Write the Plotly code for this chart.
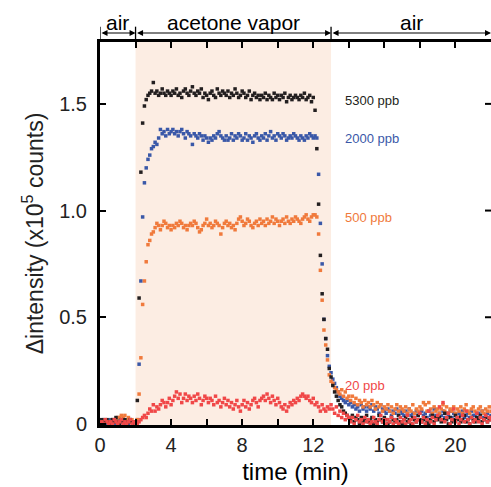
import numpy as np
import plotly.graph_objects as go

# sampling grid (min), one reading every 6 s
t_min = np.round(np.arange(0, 22.05, 0.1), 1)

# delta intensity (x1e5 counts)
sig_5300 = [
    0.01, 0.02, 0.00, 0.01, 0.02, 0.01, 0.00, 0.02, 0.01, 0.03, 0.01, 0.00, 0.02, 0.01, 0.02, 0.00, 0.01, 0.02, 0.01, 0.00, 0.01,
    0.11, 0.59, 1.18, 1.41, 1.49, 1.52, 1.54, 1.55, 1.56, 1.60,
    1.55, 1.56, 1.54, 1.55, 1.57, 1.55, 1.54, 1.56, 1.55, 1.54,
    1.56, 1.55, 1.57, 1.54, 1.55, 1.53, 1.56, 1.57, 1.55, 1.54,
    1.56, 1.58, 1.55, 1.54, 1.56, 1.55, 1.57, 1.53, 1.55, 1.54,
    1.52, 1.55, 1.56, 1.54, 1.53, 1.57, 1.55, 1.54, 1.56, 1.55,
    1.54, 1.56, 1.53, 1.55, 1.54, 1.57, 1.55, 1.53, 1.54, 1.56,
    1.55, 1.53, 1.54, 1.56, 1.52, 1.54, 1.55, 1.53, 1.54, 1.52,
    1.54, 1.53, 1.55, 1.52, 1.54, 1.53, 1.52, 1.55, 1.53, 1.54,
    1.52, 1.54, 1.53, 1.55, 1.51, 1.53, 1.54, 1.52, 1.53, 1.54,
    1.53, 1.52, 1.54, 1.53, 1.55, 1.52, 1.53, 1.54, 1.51, 1.53,
    1.47, 1.29, 1.03, 0.79, 0.61, 0.49, 0.40, 0.35, 0.26, 0.22,
    0.18, 0.15, 0.13, 0.11, 0.09, 0.08, 0.06, 0.05, 0.04, 0.03,
    0.02, 0.04, 0.01, 0.03, 0.02, 0.00, 0.03, 0.01, 0.02, 0.04,
    0.01, 0.02, 0.03, 0.00, 0.02, 0.01, 0.04, 0.02, 0.01, 0.03,
    0.02, 0.00, 0.01, 0.03, 0.02, 0.01, 0.02, 0.04, 0.01, 0.00,
    0.02, 0.03, 0.01, 0.02, 0.00, 0.03, 0.02, 0.01, 0.04, 0.02,
    0.01, 0.02, 0.03, 0.01, 0.00, 0.02, 0.04, 0.01, 0.03, 0.02,
    0.03, 0.01, 0.02, 0.05, 0.02, 0.00, 0.03, 0.01, 0.02, 0.04,
    0.02, 0.03, 0.01, 0.02, 0.04, 0.01, 0.02, 0.00, 0.03, 0.02,
    0.01, 0.03, 0.02, 0.04, 0.01, 0.02, 0.03, 0.01, 0.02, 0.03,
]

sig_2000 = [
    0.00, 0.01, 0.02, 0.00, 0.01, 0.00, 0.02, 0.01, 0.00, 0.01, 0.02, 0.00, 0.01, 0.02, 0.00, 0.01, 0.00, 0.02, 0.01, 0.00, 0.01,
    0.02, 0.28, 0.67, 0.97, 1.13, 1.20, 1.24, 1.26, 1.29, 1.30,
    1.32, 1.31, 1.34, 1.38, 1.36, 1.37, 1.35, 1.38, 1.36, 1.37,
    1.38, 1.36, 1.37, 1.35, 1.37, 1.38, 1.36, 1.34, 1.37, 1.36,
    1.35, 1.31, 1.36, 1.35, 1.34, 1.36, 1.35, 1.33, 1.35, 1.34,
    1.32, 1.34, 1.33, 1.35, 1.34, 1.36, 1.37, 1.35, 1.34, 1.33,
    1.35, 1.33, 1.34, 1.36, 1.33, 1.35, 1.34, 1.36, 1.35, 1.33,
    1.34, 1.36, 1.33, 1.35, 1.34, 1.32, 1.35, 1.36, 1.34, 1.33,
    1.35, 1.34, 1.36, 1.33, 1.35, 1.37, 1.34, 1.35, 1.33, 1.36,
    1.35, 1.34, 1.36, 1.35, 1.33, 1.34, 1.35, 1.34, 1.36, 1.35,
    1.34, 1.33, 1.35, 1.34, 1.33, 1.35, 1.34, 1.36, 1.35, 1.34,
    1.35, 1.34, 1.17, 0.94, 0.75, 0.49, 0.40, 0.32, 0.27, 0.24,
    0.21, 0.19, 0.17, 0.15, 0.13, 0.12, 0.11, 0.10, 0.11, 0.09,
    0.10, 0.08, 0.09, 0.07, 0.08, 0.06, 0.09, 0.07, 0.08, 0.06,
    0.08, 0.07, 0.09, 0.06, 0.08, 0.07, 0.05, 0.09, 0.07, 0.06,
    0.05, 0.07, 0.06, 0.04, 0.06, 0.05, 0.07, 0.04, 0.06, 0.05,
    0.04, 0.06, 0.05, 0.07, 0.04, 0.05, 0.03, 0.06, 0.04, 0.05,
    0.06, 0.04, 0.05, 0.03, 0.06, 0.04, 0.05, 0.07, 0.04, 0.03,
    0.05, 0.04, 0.06, 0.03, 0.05, 0.04, 0.06, 0.03, 0.05, 0.04,
    0.03, 0.05, 0.04, 0.06, 0.03, 0.04, 0.05, 0.03, 0.06, 0.04,
    0.04, 0.03, 0.05, 0.04, 0.06, 0.03, 0.04, 0.05, 0.03, 0.04,
]

sig_500 = [
    0.01, 0.00, 0.01, 0.02, 0.01, 0.00, 0.01, 0.02, 0.01, 0.02, 0.03, 0.03, 0.04, 0.03, 0.04, 0.02, 0.03, 0.01, 0.02, 0.01, 0.00,
    0.02, 0.14, 0.31, 0.56, 0.67, 0.76, 0.84, 0.86, 0.89, 0.90,
    0.92, 0.94, 0.93, 0.91, 0.93, 0.95, 0.94, 0.92, 0.93, 0.91,
    0.93, 0.92, 0.94, 0.93, 0.95, 0.94, 0.92, 0.93, 0.91, 0.93,
    0.94, 0.93, 0.95, 0.94, 0.92, 0.90, 0.91, 0.93, 0.94, 0.96,
    0.93, 0.94, 0.92, 0.93, 0.95, 0.94, 0.93, 0.89, 0.92, 0.94,
    0.95, 0.93, 0.94, 0.92, 0.93, 0.91, 0.94, 0.96, 0.97, 0.95,
    0.93, 0.94, 0.96, 0.95, 0.93, 0.92, 0.94, 0.95, 0.93, 0.96,
    0.94, 0.95, 0.93, 0.96, 0.94, 0.95, 0.97, 0.94, 0.96, 0.95,
    0.93, 0.95, 0.96, 0.94, 0.97, 0.95, 0.94, 0.96, 0.95, 0.97,
    0.96, 0.95, 0.94, 0.96, 0.97, 0.98, 0.96, 0.95, 0.97, 0.98,
    0.98, 0.97, 0.89, 0.72, 0.58, 0.44, 0.37, 0.30, 0.23, 0.20,
    0.19, 0.17, 0.16, 0.15, 0.14, 0.16, 0.13, 0.15, 0.12, 0.13,
    0.11, 0.13, 0.10, 0.12, 0.09, 0.11, 0.10, 0.08, 0.11, 0.09,
    0.10, 0.08, 0.11, 0.09, 0.07, 0.10, 0.08, 0.09, 0.06, 0.08,
    0.07, 0.09, 0.06, 0.08, 0.05, 0.07, 0.09, 0.06, 0.08, 0.07,
    0.06, 0.08, 0.05, 0.07, 0.06, 0.09, 0.05, 0.07, 0.06, 0.08,
    0.07, 0.10, 0.09, 0.06, 0.10, 0.07, 0.05, 0.08, 0.06, 0.07,
    0.05, 0.07, 0.09, 0.06, 0.08, 0.05, 0.07, 0.06, 0.08, 0.05,
    0.07, 0.06, 0.08, 0.05, 0.07, 0.09, 0.06, 0.05, 0.07, 0.08,
    0.06, 0.05, 0.07, 0.08, 0.06, 0.05, 0.07, 0.06, 0.08, 0.06,
]

sig_20 = [
    0.00, 0.01, 0.00, 0.02, 0.01, 0.00, 0.01, 0.00, 0.02, 0.01, 0.00, 0.01, 0.02, 0.00, 0.01, 0.00, 0.01, 0.02, 0.00, 0.01, 0.00,
    0.00, 0.01, 0.02, 0.03, 0.04, 0.03, 0.05, 0.07, 0.06, 0.09,
    0.06, 0.08, 0.07, 0.09, 0.11, 0.10, 0.08, 0.10, 0.12, 0.09,
    0.11, 0.13, 0.15, 0.12, 0.14, 0.10, 0.12, 0.14, 0.11, 0.13,
    0.12, 0.10, 0.13, 0.11, 0.14, 0.12, 0.09, 0.11, 0.13, 0.12,
    0.10, 0.12, 0.11, 0.09, 0.13, 0.10, 0.11, 0.08, 0.10, 0.12,
    0.09, 0.11, 0.08, 0.10, 0.07, 0.09, 0.11, 0.08, 0.06, 0.09,
    0.11, 0.08, 0.10, 0.07, 0.09, 0.11, 0.12, 0.10, 0.08, 0.11,
    0.12, 0.13, 0.11, 0.14, 0.12, 0.10, 0.13, 0.11, 0.09, 0.12,
    0.10, 0.08, 0.07, 0.09, 0.06, 0.08, 0.10, 0.09, 0.11, 0.10,
    0.12, 0.11, 0.13, 0.14, 0.13, 0.12, 0.13, 0.11, 0.10, 0.12,
    0.09, 0.10, 0.08, 0.06, 0.09, 0.07, 0.06, 0.08, 0.07, 0.09,
    0.07, 0.05, 0.08, 0.04, 0.06, 0.03, 0.05, 0.02, 0.04, 0.03,
    0.01, 0.03, 0.00, 0.02, 0.04, 0.01, 0.02, 0.00, 0.03, 0.01,
    0.02, 0.00, 0.01, 0.03, 0.01, 0.00, 0.02, 0.04, 0.01, 0.02,
    0.00, 0.02, 0.01, 0.03, 0.00, 0.02, 0.01, 0.00, 0.03, 0.01,
    0.02, 0.00, 0.04, 0.01, 0.02, 0.00, 0.03, 0.01, 0.02, 0.05,
    0.01, 0.03, 0.00, 0.02, 0.06, 0.01, 0.03, 0.00, 0.02, 0.04,
    0.08, 0.02, 0.10, 0.01, 0.03, 0.05, 0.00, 0.02, 0.07, 0.01,
    0.03, 0.00, 0.02, 0.04, 0.01, 0.06, 0.02, 0.00, 0.03, 0.01,
    0.02, 0.05, 0.01, 0.03, 0.00, 0.02, 0.04, 0.01, 0.03, 0.02,
]

series_names = ["2000 ppb", "500 ppb", "5300 ppb", "20 ppb"]
series_vals = [sig_2000, sig_500, sig_5300, sig_20]
series_colors = ["#3a58a8", "#f07a3c", "#231f20", "#f04848"]
label_y = {"5300 ppb": 1.514, "2000 ppb": 1.336, "500 ppb": 0.966, "20 ppb": 0.178}

# exposure phases (min)
phase_edges = [0, 2, 13, 22]
phase_names = ["air", "acetone vapor", "air"]

FONT = "Liberation Sans, Arial, sans-serif"

fig = go.Figure()

for name, vals, col in zip(series_names, series_vals, series_colors):
    assert len(vals) == len(t_min), name
    fig.add_trace(go.Scatter(x=t_min, y=vals, mode="markers", name=name,
                             marker=dict(symbol="square", size=3.5, color=col, line=dict(width=0))))

# shaded acetone window
fig.add_shape(type="rect", xref="x", yref="paper", x0=phase_edges[1], x1=phase_edges[2], y0=0, y1=1,
              fillcolor="rgb(252,237,227)", line=dict(width=0), layer="below")

# phase brackets above the frame
for e in phase_edges[:-1]:
    fig.add_shape(type="line", xref="x", yref="paper", x0=e, x1=e, y0=1.0, y1=1.04,
                  line=dict(color="black", width=1.3))
for a, b, lab in zip(phase_edges[:-1], phase_edges[1:], phase_names):
    fig.add_annotation(x=b, y=1.0235, xref="x", yref="paper", ax=a, ay=0, axref="x", ayref="pixel",
                       text="", showarrow=True, arrowside="end+start", arrowhead=2, arrowsize=1,
                       arrowwidth=1.2, arrowcolor="black", standoff=0, startstandoff=0)
    fig.add_annotation(x=(a + b) / 2, y=1.052, xref="x", yref="paper", text=lab, showarrow=False,
                       yanchor="middle", font=dict(size=21, color="black", family=FONT))

# concentration labels
for name, col in zip(series_names, series_colors):
    fig.add_annotation(x=13.65, y=label_y[name], xref="x", yref="y", text=name, showarrow=False,
                       xanchor="left", yanchor="middle", font=dict(size=13, color=col, family=FONT))

# right-hand inside ticks
for v in [0.5, 1.0, 1.5]:
    fig.add_shape(type="line", xref="paper", yref="y", x0=1 - 6 / 391, x1=1, y0=v, y1=v,
                  line=dict(color="black", width=2))

xt = list(range(0, 23, 2))
fig.update_xaxes(range=[0, 22], tickvals=xt, ticktext=[str(v) if v % 4 == 0 and v < 22 else "" for v in xt],
                 ticks="inside", ticklen=6, tickwidth=2, tickcolor="black",
                 showline=True, linewidth=3, linecolor="black", mirror="ticks",
                 showgrid=False, zeroline=False, automargin=False,
                 tickfont=dict(size=20, color="#222", family=FONT),
                 title=dict(text="time (min)", font=dict(size=24, color="black", family=FONT), standoff=9))
fig.update_yaxes(range=[-0.005, 1.79], tickvals=[0, 0.5, 1.0, 1.5], ticktext=["0", "0.5", "1.0", "1.5"],
                 ticks="inside", ticklen=6, tickwidth=2, tickcolor="black",
                 showline=True, linewidth=3, linecolor="black",
                 showgrid=False, zeroline=False, ticklabelstandoff=6, automargin=False,
                 tickfont=dict(size=20, color="#222", family=FONT),
                 title=dict(text="\u0394intensity (x10<sup>5</sup> counts)",
                            font=dict(size=23, color="#222", family=FONT), standoff=10))

fig.update_layout(width=491, height=487, margin=dict(l=100, r=0, t=42, b=62),
                  plot_bgcolor="white", paper_bgcolor="white", showlegend=False)

# drop the browser's default 8 px body margin so the figure fills the window
fig.write_html("out.html", config={"displayModeBar": False},
               post_script="document.body.style.margin='0';document.body.style.overflow='hidden';")
